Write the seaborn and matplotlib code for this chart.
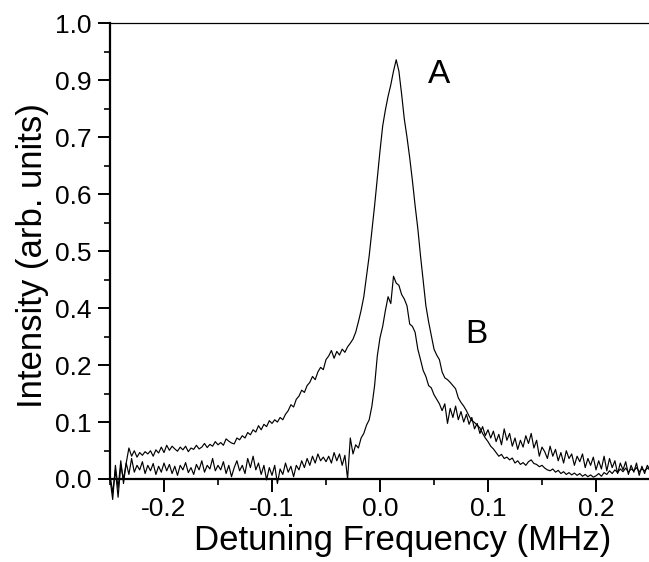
import numpy as np
import pandas as pd
import matplotlib
matplotlib.use("Agg")
import matplotlib.pyplot as plt
import seaborn as sns

# sampling grid of the detuning axis (MHz)
freq = np.round(np.arange(-0.25, 0.25 + 1e-9, 0.0025), 4)

curve_A = [
    # -0.25 .. -0.20
    0.01, -0.03, 0.02, -0.04, 0.03, 0.0, 0.035, 0.068, 0.05, 0.062, 0.048,
    0.058, 0.052, 0.06, 0.055, 0.062, 0.05, 0.064, 0.057, 0.07, 0.058,
    # -0.1975 .. -0.15
    0.074, 0.063, 0.072, 0.066, 0.061, 0.07, 0.064, 0.072, 0.06, 0.068,
    0.065, 0.074, 0.066, 0.07, 0.078, 0.069, 0.076, 0.072, 0.082, 0.075,
    # -0.1475 .. -0.10
    0.08, 0.074, 0.088, 0.083, 0.079, 0.077, 0.09, 0.086, 0.095, 0.09,
    0.102, 0.097, 0.108, 0.103, 0.117, 0.108, 0.12, 0.115, 0.128, 0.122,
    # -0.0975 .. -0.05
    0.13, 0.125, 0.135, 0.13, 0.142, 0.15, 0.163, 0.158, 0.175, 0.182,
    0.195, 0.19, 0.205, 0.212, 0.225, 0.218, 0.235, 0.245, 0.24, 0.262,
    # -0.0475 .. 0.0
    0.27, 0.282, 0.265, 0.28, 0.272, 0.285, 0.278, 0.29, 0.298, 0.307,
    0.322, 0.345, 0.37, 0.4, 0.445, 0.49, 0.545, 0.6, 0.66, 0.72,
    # 0.0025 .. 0.05
    0.775, 0.81, 0.84, 0.865, 0.895, 0.92, 0.895, 0.845, 0.79, 0.75,
    0.705, 0.655, 0.6, 0.55, 0.49, 0.435, 0.38, 0.345, 0.315, 0.285,
    # 0.0525 .. 0.10
    0.272, 0.262, 0.235, 0.222, 0.218, 0.212, 0.205, 0.198, 0.178, 0.168,
    0.16, 0.15, 0.138, 0.128, 0.124, 0.118, 0.112, 0.1, 0.09, 0.082,
    # 0.1025 .. 0.15
    0.072, 0.066, 0.058, 0.05, 0.054, 0.045, 0.048, 0.042, 0.046, 0.035,
    0.04, 0.032, 0.036, 0.03, 0.038, 0.042, 0.034, 0.032, 0.027, 0.03,
    # 0.1525 .. 0.25
    0.024, 0.02, 0.018, 0.022, 0.015, 0.019, 0.012, 0.016, 0.01, 0.014,
    0.009, 0.013, 0.008, 0.012, 0.006, 0.01, 0.005, 0.009, 0.004, 0.007,
    0.012, 0.006, 0.014, 0.01, 0.018, 0.012, 0.02, 0.014, 0.022, 0.016,
    0.024, 0.015, 0.022, 0.018, 0.025, 0.016, 0.022, 0.018, 0.024, 0.02,
]

curve_B = [
    # -0.25 .. -0.20
    0.0, -0.045, 0.03, -0.02, 0.04, -0.01, 0.035, 0.01, 0.045, 0.015, 0.03,
    0.02, 0.038, 0.012, 0.03, 0.018, 0.034, 0.01, 0.028, 0.015, 0.035,
    # -0.1975 .. -0.15
    0.018, 0.032, 0.012, 0.028, 0.008, 0.03, 0.02, 0.036, 0.014, 0.025,
    0.01, 0.032, 0.02, 0.04, 0.015, 0.03, 0.022, 0.045, 0.018, 0.03,
    # -0.1475 .. -0.10
    0.02, 0.038, 0.012, 0.03, 0.005, 0.025, 0.04, 0.018, 0.03, 0.012,
    0.045, 0.025, 0.05, 0.02, 0.035, 0.01, 0.03, -0.002, 0.025, 0.008,
    # -0.0975 .. -0.05
    0.03, -0.01, 0.022, 0.01, 0.035, 0.015, 0.028, 0.005, 0.03, 0.02,
    0.04, 0.025, 0.045, 0.03, 0.05, 0.035, 0.055, 0.04, 0.048, 0.038,
    # -0.0475 .. 0.0
    0.05, 0.035, 0.058, 0.04, 0.055, 0.03, 0.052, 0.0, 0.09, 0.055,
    0.075, 0.068, 0.09, 0.1, 0.118, 0.13, 0.16, 0.205, 0.27, 0.31,
    # 0.0025 .. 0.05
    0.335, 0.37, 0.4, 0.385, 0.445, 0.43, 0.425, 0.405, 0.395, 0.38,
    0.34, 0.335, 0.322, 0.285, 0.262, 0.238, 0.225, 0.205, 0.2, 0.185,
    # 0.0525 .. 0.10
    0.175, 0.165, 0.15, 0.165, 0.122, 0.155, 0.135, 0.16, 0.13, 0.148,
    0.125, 0.142, 0.12, 0.135, 0.11, 0.122, 0.1, 0.115, 0.095, 0.108,
    # 0.1025 .. 0.15
    0.09, 0.105, 0.082, 0.098, 0.075, 0.11, 0.085, 0.1, 0.072, 0.09,
    0.065, 0.085, 0.07, 0.095, 0.078, 0.1, 0.068, 0.085, 0.05, 0.07,
    # 0.1525 .. 0.25
    0.06, 0.045, 0.072, 0.05, 0.065, 0.04, 0.058, 0.035, 0.062, 0.045,
    0.055, 0.03, 0.05, 0.038, 0.055, 0.025, 0.045, 0.03, 0.048, 0.02,
    0.04, 0.022, 0.05, 0.018, 0.045, 0.025, 0.04, 0.012, 0.035, 0.02,
    0.038, 0.01, 0.03, 0.015, 0.035, 0.008, 0.028, 0.012, 0.03, 0.02,
]

curve_names = ["A", "B"]
x_ticks = [-0.2, -0.1, 0.0, 0.1, 0.2]
x_tick_labels = ["-0.2", "-0.1", "0.0", "0.1", "0.2"]
y_ticks = [0.0, 0.125, 0.25, 0.375, 0.5, 0.625, 0.75, 0.875, 1.0]
y_tick_labels = ["0.0", "0.1", "0.2", "0.4", "0.5", "0.6", "0.7", "0.9", "1.0"]
label_pos = {"A": (0.0549, 0.887), "B": (0.0896, 0.318)}

assert len(curve_A) == len(freq) and len(curve_B) == len(freq)

df = pd.concat([
    pd.DataFrame({"freq": freq, "intensity": curve_A, "curve": "A"}),
    pd.DataFrame({"freq": freq, "intensity": curve_B, "curve": "B"}),
], ignore_index=True)

sns.set_style("ticks")
plt.rcParams["font.family"] = ["Liberation Sans", "DejaVu Sans"]

fig = plt.figure(figsize=(6.49, 5.62), dpi=100)
ax = fig.add_axes([110 / 649, 83 / 562, 540 / 649, 455.7 / 562])

sns.lineplot(data=df, x="freq", y="intensity", hue="curve", units="curve",
             estimator=None, sort=False, palette={"A": "black", "B": "black"},
             linewidth=0.85, legend=False, ax=ax)
for line in ax.get_lines():
    line.set_clip_on(False)

ax.set_xlim(-0.25, 0.25)
ax.set_ylim(0.0, 1.0)

ax.set_xticks(x_ticks)
ax.set_xticklabels(x_tick_labels)
ax.set_xticks([-0.25, -0.15, -0.05, 0.05, 0.15, 0.25], minor=True)
ax.set_yticks(y_ticks)
ax.set_yticklabels(y_tick_labels)
ax.set_yticks([0.0625, 0.1875, 0.3125, 0.4375, 0.5625, 0.6875, 0.8125, 0.9375], minor=True)

ax.tick_params(axis="both", which="major", direction="out", length=9, width=1.4,
               labelsize=19, color="black", labelcolor="black", pad=4)
ax.tick_params(axis="both", which="minor", direction="out", length=4.5, width=1.2,
               color="black")

for s in ["left", "bottom"]:
    ax.spines[s].set_linewidth(1.6)
    ax.spines[s].set_color("black")
ax.spines["top"].set_linewidth(0.9)
ax.spines["top"].set_color("black")
ax.spines["top"].set_visible(True)
ax.spines["right"].set_visible(False)

ax.set_xlabel("Detuning Frequency (MHz)", fontsize=25, color="black")
ax.set_ylabel("Intensity (arb. units)", fontsize=25, color="black")
ax.xaxis.set_label_coords(0.5417, -0.098)
ax.yaxis.set_label_coords(-0.113, 0.49)

for name in curve_names:
    x, y = label_pos[name]
    ax.text(x, y, name, fontsize=24, ha="center", va="center", color="black")

fig.savefig("out.png", dpi=100)
